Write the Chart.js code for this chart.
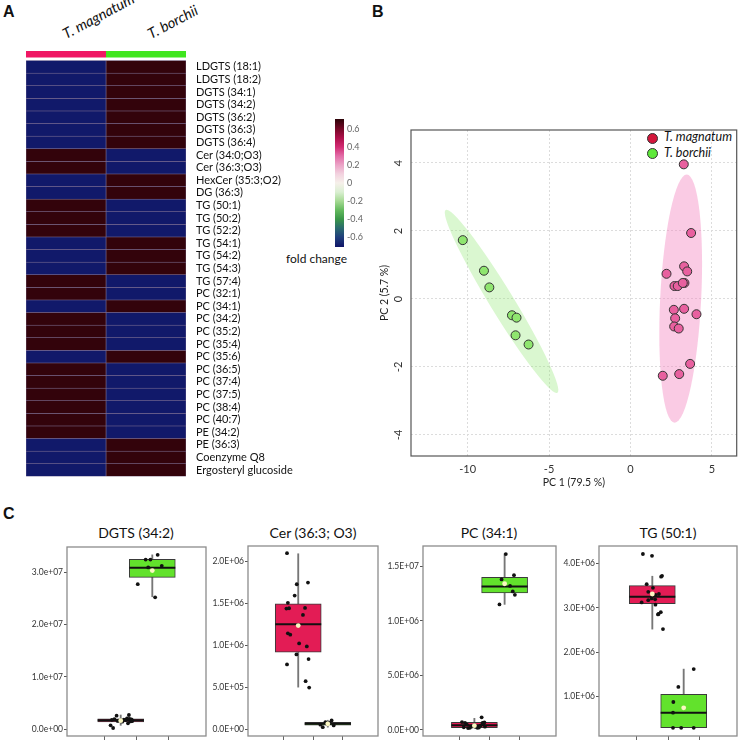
<!DOCTYPE html>
<html>
<head>
<meta charset="utf-8">
<script src="https://cdn.jsdelivr.net/npm/chart.js@4.4.1/dist/chart.umd.min.js"></script>
<style>
  body { margin:0; width:742px; height:743px; position:relative; overflow:hidden; background:#fff; font-family:Lato, "Open Sans", sans-serif; color:#111; }
  canvas { position:absolute; }
  .txt { position:absolute; white-space:nowrap; line-height:1; }
  .panel { font-family:"Liberation Sans", Arial, sans-serif; font-weight:bold; font-size:16px; }
  .hdr { font-style:italic; font-size:14.5px; line-height:14px; transform-origin:0 100%; transform:rotate(-28deg); }
  .ttl { font-size:14px; text-align:center; width:160px; }
  .dot { position:absolute; width:9px; height:9px; border-radius:50%; border:1px solid #333; }
  .leg { font-style:italic; font-size:12.5px; }
</style>
</head>
<body>
<div class="txt panel" style="left:3px;top:4px;">A</div>
<div class="txt panel" style="left:372px;top:4px;">B</div>
<div class="txt panel" style="left:3px;top:506px;">C</div>

<div class="txt hdr" style="left:67px;top:27px;">T. magnatum</div>
<div class="txt hdr" style="left:152px;top:27px;">T. borchii</div>
<div class="txt" style="left:286px;top:253px;font-size:12px;">fold change</div>

<div class="dot" style="left:647px;top:133px;background:#d4173c;"></div>
<div class="dot" style="left:647px;top:148px;background:#5ee83a;"></div>
<div class="txt leg" style="left:664px;top:131px;">T. magnatum</div>
<div class="txt leg" style="left:664px;top:147px;">T. borchii</div>

<div class="txt ttl" style="left:56px;top:526px;">DGTS (34:2)</div>
<div class="txt ttl" style="left:233px;top:526px;">Cer (36:3; O3)</div>
<div class="txt ttl" style="left:409px;top:526px;">PC (34:1)</div>
<div class="txt ttl" style="left:588px;top:526px;">TG (50:1)</div>

<canvas id="heat" width="276" height="434" style="left:25px;top:46px;"></canvas>
<canvas id="cbar" width="50" height="138" style="left:330px;top:114px;"></canvas>
<canvas id="pca" width="372" height="380" style="left:370px;top:120px;"></canvas>
<canvas id="box1" width="190" height="200" style="left:19px;top:544px;"></canvas>
<canvas id="box2" width="181" height="201" style="left:200px;top:543px;"></canvas>
<canvas id="box3" width="184" height="201" style="left:375px;top:543px;"></canvas>
<canvas id="box4" width="189" height="201" style="left:551px;top:543px;"></canvas>

<script>
// ---- A: heatmap ----
var lipids = ['LDGTS (18:1)', 'LDGTS (18:2)', 'DGTS (34:1)', 'DGTS (34:2)', 'DGTS (36:2)', 'DGTS (36:3)', 'DGTS (36:4)',
  'Cer (34:0;O3)', 'Cer (36:3;O3)', 'HexCer (35:3;O2)', 'DG (36:3)', 'TG (50:1)', 'TG (50:2)', 'TG (52:2)', 'TG (54:1)',
  'TG (54:2)', 'TG (54:3)', 'TG (57:4)', 'PC (32:1)', 'PC (34:1)', 'PC (34:2)', 'PC (35:2)', 'PC (35:4)', 'PC (35:6)',
  'PC (36:5)', 'PC (37:4)', 'PC (37:5)', 'PC (38:4)', 'PC (40:7)', 'PE (34:2)', 'PE (36:3)', 'Coenzyme Q8', 'Ergosteryl glucoside'];
var magnatumFold = [-0.7, -0.7, -0.7, -0.7, -0.7, -0.7, -0.7, 0.7, 0.7, -0.7, -0.7, 0.7, 0.7, 0.7, -0.7, -0.7, -0.7,
  0.7, 0.7, -0.7, 0.7, 0.7, 0.7, -0.7, 0.7, 0.7, 0.7, 0.7, 0.7, 0.7, -0.7, -0.7, -0.7];
var borchiiFold = [0.7, 0.7, 0.7, 0.7, 0.7, 0.7, 0.7, -0.7, -0.7, 0.7, 0.7, -0.7, -0.7, -0.7, 0.7, 0.7, 0.7,
  -0.7, -0.7, 0.7, -0.7, -0.7, -0.7, 0.7, -0.7, -0.7, -0.7, -0.7, -0.7, -0.7, 0.7, 0.7, 0.7];
var colorbarTicks = [-0.6, -0.4, -0.2, 0, 0.2, 0.4, 0.6];
var colorbarLabels = ['-0.6', '-0.4', '-0.2', '0', '0.2', '0.4', '0.6'];

// ---- B: PCA ----
var magnatumPC1 = [3.27, 3.72, 2.21, 3.29, 3.48, 3.31, 2.70, 2.90, 3.21, 2.66, 3.29, 4.05, 2.74, 2.68, 2.96, 3.66, 2.99, 1.98];
var magnatumPC2 = [3.96, 1.94, 0.74, 0.96, 0.81, 0.47, 0.38, 0.38, 0.47, -0.32, -0.29, -0.45, -0.57, -0.81, -0.87, -1.91, -2.21, -2.26];
var borchiiPC1 = [-10.3, -9.0, -8.67, -7.28, -7.0, -7.06, -6.26];
var borchiiPC2 = [1.73, 0.83, 0.34, -0.48, -0.55, -1.07, -1.34];
var ellipseCenters = [[-7.92, -0.07], [3.08, 0.01]];
var ellipseMajor = [[-3.43, 2.69], [0.37, 3.65]];
var ellipseMinor = [[0.63, 0.18], [1.26, 0]];
var pcaXTicks = [-10, -5, 0, 5];
var pcaYTicks = [-4, -2, 0, 2, 4];

// ---- C: box plots (group 1 = T. magnatum, group 2 = T. borchii) ----
var groupPositions = [1, 2];

var dgtsRange = [-1.28e6, 3.48e7];
var dgtsTicks = [0, 1e7, 2e7, 3e7];
var dgtsTickLabels = ['0.0e+00', '1.0e+07', '2.0e+07', '3.0e+07'];
var dgtsQuartiles = [[1.42e6, 1.72e6, 2.0e6], [2.90e7, 3.084e7, 3.244e7]];
var dgtsWhiskers = [[0.76e6, 2.73e6], [2.53e7, 3.33e7]];
var dgtsMeans = [1.64e6, 3.03e7];
var dgtsMagnatumX = [0.68, 0.76, 0.87, 0.93, 1.16, 1.2, 1.23, 1.26, 1.31, 1.34, 1.37, 0.72, 0.8, 0.9, 1.05, 1.1, 1.28, 1.36];
var dgtsMagnatumY = [0.76e6, 0.25e6, 2.6e6, 1.64e6, 1.77e6, 2.1e6, 1.14e6, 2.73e6, 1.5e6, 1.9e6, 1.7e6, 1.8e6, 1.95e6, 1.6e6, 1.45e6, 1.85e6, 2.0e6, 1.55e6];
var dgtsBorchiiX = [1.54, 1.79, 1.87, 1.94, 2.09, 2.17, 2.3];
var dgtsBorchiiY = [2.77e7, 3.24e7, 3.09e7, 3.24e7, 2.52e7, 3.33e7, 3.12e7];

var cerRange = [-0.075e6, 2.18e6];
var cerTicks = [0, 5e5, 1e6, 1.5e6, 2e6];
var cerTickLabels = ['0.0E+00', '5.0E+05', '1.0E+06', '1.5E+06', '2.0E+06'];
var cerQuartiles = [[0.921e6, 1.25e6, 1.493e6], [0.055e6, 0.07e6, 0.088e6]];
var cerWhiskers = [[0.505e6, 2.088e6], [0.03e6, 0.112e6]];
var cerMeans = [1.235e6, 0.07e6];
var cerMagnatumX = [0.62, 0.95, 0.88, 1.33, 0.65, 0.60, 0.69, 1.23, 1.16, 0.65, 0.73, 1.03, 1.29, 0.94, 1.35, 0.62, 1.25, 1.37];
var cerMagnatumY = [2.095e6, 1.726e6, 1.592e6, 1.746e6, 1.505e6, 1.437e6, 1.441e6, 1.445e6, 1.362e6, 1.143e6, 1.127e6, 1.024e6, 0.988e6, 0.893e6, 0.838e6, 0.774e6, 0.576e6, 0.5e6];
var cerBorchiiX = [1.83, 1.92, 2.13, 2.2, 1.97, 2.06, 1.75];
var cerBorchiiY = [0.03e6, 0.09e6, 0.11e6, 0.05e6, 0.07e6, 0.08e6, 0.06e6];

var pcRange = [-0.55e6, 1.686e7];
var pcTicks = [0, 5e6, 1e7, 1.5e7];
var pcTickLabels = ['0.0E+00', '5.0E+06', '1.0E+06', '1.5E+07'];
var pcQuartiles = [[0.22e6, 0.43e6, 0.7e6], [1.255e7, 1.316e7, 1.398e7]];
var pcWhiskers = [[0.18e6, 1.07e6], [1.151e7, 1.615e7]];
var pcMeans = [0.4e6, 1.34e7];
var pcMagnatumX = [0.59, 0.69, 0.79, 1.24, 1.27, 1.33, 1.35, 0.65, 0.85, 0.95, 1.05, 1.15, 1.2, 0.75, 0.9, 1.1, 1.3, 1.0];
var pcMagnatumY = [0.73e6, 0.65e6, 0.18e6, 1.16e6, 0.64e6, 0.7e6, 0.3e6, 0.25e6, 0.2e6, 0.35e6, 0.28e6, 0.22e6, 0.4e6, 0.5e6, 0.3e6, 0.2e6, 0.6e6, 0.45e6];
var pcBorchiiX = [2.04, 2.31, 1.9, 2.18, 2.27, 2.34, 1.83];
var pcBorchiiY = [1.612e7, 1.419e7, 1.38e7, 1.32e7, 1.27e7, 1.239e7, 1.151e7];

var tgRange = [0.115e6, 4.39e6];
var tgTicks = [1e6, 2e6, 3e6, 4e6];
var tgTickLabels = ['1.0E+06', '2.0E+06', '3.0E+06', '4.0E+06'];
var tgQuartiles = [[3.09e6, 3.25e6, 3.5e6], [0.302e6, 0.64e6, 1.054e6]];
var tgWhiskers = [[2.52e6, 3.71e6], [0.302e6, 1.62e6]];
var tgMeans = [3.31e6, 0.75e6];
var tgMagnatumX = [0.70, 0.99, 1.28, 1.31, 0.82, 1.02, 0.87, 1.21, 1.11, 0.98, 1.09, 0.87, 0.66, 1.1, 1.2, 1.18, 1.27, 1.34];
var tgMagnatumY = [4.21e6, 4.17e6, 3.7e6, 3.72e6, 3.53e6, 3.45e6, 3.36e6, 3.31e6, 3.29e6, 3.21e6, 3.19e6, 3.17e6, 3.12e6, 3.07e6, 2.86e6, 2.85e6, 2.9e6, 2.52e6];
var tgBorchiiX = [2.32, 1.83, 1.67, 1.66, 1.66, 1.92, 2.32];
var tgBorchiiY = [1.62e6, 1.22e6, 0.88e6, 0.64e6, 0.3e6, 0.3e6, 0.3e6];

// colour scale used by heatmap cells and colour bar
var paletteValues = [-0.71, -0.6, -0.5, -0.4, -0.3, -0.2, -0.1, 0, 0.1, 0.2, 0.3, 0.4, 0.5, 0.6, 0.71];
var paletteColors = ['#101568', '#203f7c', '#2a6b6e', '#3a9748', '#64ba5e', '#a6da94', '#daefd2', '#f6f0ea',
  '#f2d2df', '#eba3c6', '#e26ca7', '#d12b72', '#ae0f4a', '#760827', '#2c0308'];

function hexRgb(h) { return [parseInt(h.slice(1, 3), 16), parseInt(h.slice(3, 5), 16), parseInt(h.slice(5, 7), 16)]; }
function colorFor(v) {
  if (v <= paletteValues[0]) return paletteColors[0];
  for (var i = 0; i < paletteValues.length - 1; i++) {
    if (v <= paletteValues[i + 1]) {
      var t = (v - paletteValues[i]) / (paletteValues[i + 1] - paletteValues[i]);
      var a = hexRgb(paletteColors[i]), b = hexRgb(paletteColors[i + 1]);
      return 'rgb(' + a.map(function (c, k) { return Math.round(c + (b[k] - c) * t); }).join(',') + ')';
    }
  }
  return paletteColors[paletteColors.length - 1];
}

// scales: keep the plot area exactly where the layout puts it
function fixV(w) { return function (s) { s.width = w; s.paddingTop = 0; s.paddingBottom = 0; }; }
function fixH(h) { return function (s) { s.height = h; s.paddingLeft = 0; s.paddingRight = 0; }; }

var framePlugin = {
  id: 'frame',
  afterDatasetsDraw: function (chart, args, opts) {
    var a = chart.chartArea, ctx = chart.ctx;
    ctx.save();
    ctx.strokeStyle = opts.color || '#888';
    ctx.lineWidth = opts.width || 1;
    ctx.strokeRect(a.left, a.top, a.right - a.left, a.bottom - a.top);
    ctx.restore();
  }
};

Chart.defaults.font.family = 'Lato, "Open Sans", sans-serif';
Chart.defaults.animation = false;
Chart.defaults.responsive = false;
Chart.defaults.events = [];
Chart.defaults.layout.autoPadding = false;
Chart.defaults.plugins.legend.display = false;
Chart.defaults.plugins.tooltip.enabled = false;

// ---------- heatmap ----------
var rowLabels = [''].concat(lipids);
function cellRange(x0, x1) { return [null].concat(lipids.map(function () { return [x0, x1]; })); }
new Chart(document.getElementById('heat'), {
  type: 'bar',
  data: {
    labels: rowLabels,
    datasets: [
      { data: [[0, 1]], backgroundColor: '#ef1764', barPercentage: 0.52, categoryPercentage: 1, grouped: false },
      { data: [[1, 2]], backgroundColor: '#3fe61e', barPercentage: 0.52, categoryPercentage: 1, grouped: false },
      { data: cellRange(0, 1), backgroundColor: [null].concat(magnatumFold.map(colorFor)), borderColor: '#7f7095',
        borderWidth: 0.6, borderSkipped: false, barPercentage: 1, categoryPercentage: 1, grouped: false },
      { data: cellRange(1, 2), backgroundColor: [null].concat(borchiiFold.map(colorFor)), borderColor: '#7f7095',
        borderWidth: 0.6, borderSkipped: false, barPercentage: 1, categoryPercentage: 1, grouped: false }
    ]
  },
  options: {
    indexAxis: 'y',
    layout: { padding: { left: 1, top: 2, bottom: 3.6, right: 0 } },
    scales: {
      x: { type: 'linear', min: 0, max: 2, display: false },
      y: {
        position: 'right',
        grid: { display: false, drawTicks: false }, border: { display: false },
        ticks: { autoSkip: false, padding: 10, color: '#111', font: { size: 11 } },
        afterFit: fixV(115)
      }
    }
  }
});

// ---------- colour bar ----------
new Chart(document.getElementById('cbar'), {
  type: 'bar',
  data: {
    labels: [''],
    datasets: [{
      data: [[paletteValues[0], paletteValues[paletteValues.length - 1]]],
      barPercentage: 1, categoryPercentage: 1,
      backgroundColor: function (c) {
        var ch = c.chart;
        if (!ch.chartArea) return null;
        var ys = ch.scales.y;
        var lo = paletteValues[0], hi = paletteValues[paletteValues.length - 1];
        var g = ch.ctx.createLinearGradient(0, ys.getPixelForValue(lo), 0, ys.getPixelForValue(hi));
        paletteValues.forEach(function (v, i) { g.addColorStop((v - lo) / (hi - lo), paletteColors[i]); });
        return g;
      }
    }]
  },
  options: {
    layout: { padding: { left: 5, top: 5, bottom: 5, right: 0 } },
    scales: {
      x: { display: false },
      y: {
        position: 'right', min: paletteValues[0], max: paletteValues[paletteValues.length - 1],
        afterBuildTicks: function (s) { s.ticks = colorbarTicks.map(function (v) { return { value: v }; }); },
        ticks: { padding: 3, color: '#666', font: { size: 9 }, callback: function (v, i) { return colorbarLabels[i]; } },
        grid: { display: false, drawTicks: false }, border: { display: false },
        afterFit: fixV(36)
      }
    }
  }
});

// ---------- PCA ----------
var ellipsePlugin = {
  id: 'ellipses',
  beforeDatasetsDraw: function (chart, args, opts) {
    var ctx = chart.ctx, xs = chart.scales.x, ys = chart.scales.y, a = chart.chartArea;
    ctx.save();
    ctx.beginPath(); ctx.rect(a.left, a.top, a.right - a.left, a.bottom - a.top); ctx.clip();
    ellipseCenters.forEach(function (c, i) {
      var cx = xs.getPixelForValue(c[0]), cy = ys.getPixelForValue(c[1]);
      var ux = xs.getPixelForValue(c[0] + ellipseMajor[i][0]) - cx, uy = ys.getPixelForValue(c[1] + ellipseMajor[i][1]) - cy;
      var vx = xs.getPixelForValue(c[0] + ellipseMinor[i][0]) - cx, vy = ys.getPixelForValue(c[1] + ellipseMinor[i][1]) - cy;
      ctx.save();
      ctx.transform(ux, uy, vx, vy, cx, cy);
      ctx.beginPath();
      ctx.arc(0, 0, 1, 0, Math.PI * 2);
      ctx.restore();
      ctx.fillStyle = opts.colors[i];
      ctx.fill();
    });
    ctx.restore();
  }
};

function pairs(xs, ys) { return xs.map(function (x, i) { return { x: x, y: ys[i] }; }); }

new Chart(document.getElementById('pca'), {
  type: 'scatter',
  data: {
    datasets: [
      { label: 'T. borchii', data: pairs(borchiiPC1, borchiiPC2), pointRadius: 4.5, pointBackgroundColor: '#8fe56f', pointBorderColor: '#333', pointBorderWidth: 1 },
      { label: 'T. magnatum', data: pairs(magnatumPC1, magnatumPC2), pointRadius: 4.5, pointBackgroundColor: '#e8609f', pointBorderColor: '#333', pointBorderWidth: 1 }
    ]
  },
  options: {
    layout: { padding: { top: 10, right: 5.3, left: 0, bottom: 0 } },
    plugins: { ellipses: { colors: ['rgba(150,232,120,0.35)', 'rgba(244,130,190,0.42)'] }, frame: { color: '#555', width: 1.2 } },
    scales: {
      x: {
        min: -13.48, max: 6.52,
        afterBuildTicks: function (s) { s.ticks = pcaXTicks.map(function (v) { return { value: v }; }); },
        ticks: { padding: 7, color: '#333', font: { size: 11 } },
        grid: { color: '#dcdcdc', drawTicks: false }, border: { display: false, dash: [2, 2] },
        title: { display: true, text: 'PC 1 (79.5 %)', color: '#222', font: { size: 10.5 }, padding: { top: 0, bottom: 11 } },
        afterFit: fixH(44)
      },
      y: {
        min: -4.62, max: 4.97,
        afterBuildTicks: function (s) { s.ticks = pcaYTicks.map(function (v) { return { value: v }; }); },
        ticks: { padding: 7, minRotation: 90, maxRotation: 90, crossAlign: 'center', color: '#333', font: { size: 11 } },
        grid: { color: '#dcdcdc', drawTicks: false }, border: { display: false, dash: [2, 2] },
        title: { display: true, text: 'PC 2 (5.7 %)', color: '#222', font: { size: 10.5 }, padding: { top: 8, bottom: 0 } },
        afterFit: fixV(41)
      }
    }
  },
  plugins: [ellipsePlugin, framePlugin]
});

// ---------- box plots ----------
function boxChart(id, range, ticks, tickLabels, quartiles, whiskers, means, magX, magY, borX, borY) {
  var boxColors = ['#e31c55', '#62e22c'];
  new Chart(document.getElementById(id), {
    type: 'scatter',
    data: {
      datasets: [
        { type: 'bar', data: whiskers.map(function (w, i) { return { x: groupPositions[i], y: [w[0], w[1]] }; }),
          backgroundColor: '#777', barThickness: 1.2, grouped: false, order: 5 },
        { type: 'bar', data: quartiles.map(function (q, i) { return { x: groupPositions[i], y: [q[0], q[2]] }; }),
          backgroundColor: boxColors, borderColor: '#3a3a3a', borderWidth: 1, borderSkipped: false, barThickness: 46, grouped: false, order: 4 },
        { data: quartiles.map(function (q, i) { return { x: groupPositions[i], y: q[1] }; }),
          pointStyle: 'line', pointRadius: 23, pointBorderWidth: 2, pointBorderColor: '#111', order: 3 },
        { data: pairs(magX, magY).concat(pairs(borX, borY)), pointRadius: 1.9, pointBackgroundColor: '#111', pointBorderWidth: 0, order: 2 },
        { data: means.map(function (m, i) { return { x: groupPositions[i], y: m }; }),
          pointRadius: 2.4, pointBackgroundColor: '#fbf7c2', pointBorderWidth: 0, order: 1 }
      ]
    },
    options: {
      layout: { padding: { top: 3, right: 3, left: 0, bottom: 0 } },
      plugins: { frame: { color: '#8c8c8c', width: 1.3 } },
      scales: {
        x: {
          type: 'linear', min: 0.4, max: 2.6,
          afterBuildTicks: function (s) { s.ticks = groupPositions.map(function (v) { return { value: v }; }); },
          ticks: { callback: function () { return ''; }, padding: 0 },
          grid: { drawOnChartArea: false, tickLength: 4, color: '#666' }, border: { display: false },
          afterFit: fixH(8)
        },
        y: {
          min: range[0], max: range[1],
          afterBuildTicks: function (s) { s.ticks = ticks.map(function (v) { return { value: v }; }); },
          ticks: { padding: 1, color: '#333', font: { size: 8.5 }, callback: function (v, i) { return tickLabels[i]; } },
          grid: { drawOnChartArea: false, tickLength: 3, color: '#555' }, border: { display: false },
          afterFit: fixV(48)
        }
      }
    },
    plugins: [framePlugin]
  });
}

boxChart('box1', dgtsRange, dgtsTicks, dgtsTickLabels, dgtsQuartiles, dgtsWhiskers, dgtsMeans, dgtsMagnatumX, dgtsMagnatumY, dgtsBorchiiX, dgtsBorchiiY);
boxChart('box2', cerRange, cerTicks, cerTickLabels, cerQuartiles, cerWhiskers, cerMeans, cerMagnatumX, cerMagnatumY, cerBorchiiX, cerBorchiiY);
boxChart('box3', pcRange, pcTicks, pcTickLabels, pcQuartiles, pcWhiskers, pcMeans, pcMagnatumX, pcMagnatumY, pcBorchiiX, pcBorchiiY);
boxChart('box4', tgRange, tgTicks, tgTickLabels, tgQuartiles, tgWhiskers, tgMeans, tgMagnatumX, tgMagnatumY, tgBorchiiX, tgBorchiiY);
</script>
</body>
</html>
